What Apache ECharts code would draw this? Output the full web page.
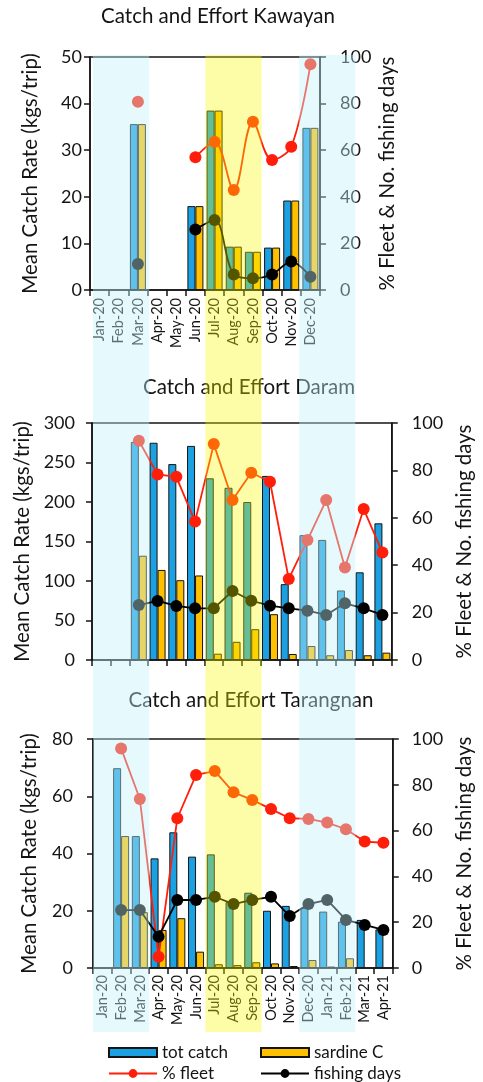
<!DOCTYPE html>
<html>
<head>
<meta charset="utf-8">
<script src="https://cdn.jsdelivr.net/npm/echarts@6/dist/echarts.min.js"></script>
<style>
html, body { margin: 0; padding: 0; background: #fff; }
#main { width: 483px; height: 1082px; }
</style>
</head>
<body>
<div id="main"></div>
<script>
// month labels (Kawayan only goes to Dec-20)
var months = ['Jan-20','Feb-20','Mar-20','Apr-20','May-20','Jun-20','Jul-20','Aug-20','Sep-20','Oct-20','Nov-20','Dec-20','Jan-21','Feb-21','Mar-21','Apr-21'];
var monthsKaw = ['Jan-20','Feb-20','Mar-20','Apr-20','May-20','Jun-20','Jul-20','Aug-20','Sep-20','Oct-20','Nov-20','Dec-20'];

// Kawayan
var kawTot   = [null, null, 35.6, null, null, 18.0, 38.5, 9.3, 8.2, 9.1, 19.2, 34.8];
var kawSar   = [null, null, 35.6, null, null, 18.0, 38.5, 9.3, 8.2, 9.1, 19.2, 34.8];
var kawFleet = [null, null, 80.8, null, null, 57.0, 63.6, 42.9, 72.2, 55.8, 61.5, 96.9];
var kawDays  = [null, null, 11.2, null, null, 26.0, 30.0, 6.7, 5.0, 6.7, 12.2, 5.7];

// Daram
var darTot   = [null, null, 276, 275, 248, 271, 230, 218, 200, 233, 96, 158, 152, 88, 111, 173];
var darSar   = [null, null, 132, 114, 101, 107, 8, 23, 39, 58, 7.6, 17.7, 6, 12.6, 6, 9.3];
var darFleet = [null, null, 92.5, 78.3, 77.3, 58.4, 91.1, 67.5, 79.0, 75.2, 34.2, 50.6, 67.5, 39.0, 63.7, 45.4];
var darDays  = [null, null, 23.2, 24.9, 22.8, 21.8, 21.8, 29.1, 25.0, 22.9, 21.8, 20.8, 19.0, 23.9, 21.8, 19.0];

// Tarangnan
var tarTot   = [null, 69.8, 46.1, 38.3, 47.4, 38.9, 39.7, 23.0, 26.3, 20.0, 21.7, 21.0, 19.7, 16.2, 16.8, 13.5];
var tarSar   = [null, 46.1, 19.5, 13.3, 17.4, 5.7, 1.3, 1.0, 2.0, 1.6, 0.7, 2.8, 0.5, 3.4, null, null];
var tarFleet = [null, 95.9, 73.8, 4.9, 65.4, 84.3, 86.0, 76.7, 73.4, 69.4, 65.4, 65.1, 63.5, 60.6, 55.2, 54.7];
var tarDays  = [null, 25.3, 25.3, 13.7, 29.7, 29.7, 31.1, 27.9, 29.7, 31.1, 22.7, 27.9, 29.7, 21.0, 18.8, 16.6];

// shaded seasons: first month, last month
var bandFrom = ['Jan-20', 'Jul-20', 'Dec-20'];
var bandTo   = ['Mar-20', 'Sep-20', 'Feb-21'];

var FONT = 'Lato, "Noto Sans", sans-serif';
var INK = '#141414';
var BLUE = '#1ba0e2';
var GOLD = '#ffc000';
var RED = '#ff1e0a';

var chart = echarts.init(document.getElementById('main'));

function catAxis(g, data, showLabel, margin) {
  return {
    type: 'category', gridIndex: g, data: data,
    axisLine: { lineStyle: { color: INK, width: 1.5 } },
    axisTick: { show: true, length: 6, lineStyle: { color: INK, width: 1.5 } },
    axisLabel: { show: showLabel, rotate: 90, interval: 0, margin: margin, fontSize: 14.5, color: INK, fontFamily: FONT }
  };
}

function valAxis(g, pos, max, step, name, labelMargin, nameGap) {
  return {
    type: 'value', gridIndex: g, position: pos, min: 0, max: max, interval: step,
    name: name, nameLocation: 'middle', nameGap: nameGap, nameRotate: 90,
    nameTextStyle: { fontSize: 20.5, color: INK, fontFamily: FONT },
    splitLine: { show: false },
    axisLine: { show: true, lineStyle: { color: INK, width: 1.5 } },
    axisTick: { show: true, length: 6, lineStyle: { color: INK, width: 1.5 } },
    axisLabel: { margin: labelMargin, fontSize: 18, color: INK, fontFamily: FONT }
  };
}

function bars(g, name, data, color) {
  return {
    type: 'bar', name: name, xAxisIndex: g, yAxisIndex: g * 2, data: data,
    barWidth: 8, barGap: '0%',
    itemStyle: { color: color, borderColor: INK, borderWidth: 1 }
  };
}

function line(g, name, data, color, smooth) {
  return {
    type: 'line', name: name, xAxisIndex: g, yAxisIndex: g * 2 + 1, data: data,
    symbol: 'circle', symbolSize: 12, smooth: smooth, connectNulls: false, z: 4,
    lineStyle: { color: color, width: 1.8 },
    itemStyle: { color: color }
  };
}

var leftName = 'Mean Catch Rate (kgs/trip)';
var rightName = '% Fleet & No. fishing days';
var titleStyle = { fontSize: 20.5, fontWeight: 'normal', color: INK, fontFamily: FONT };
var legendText = { fontSize: 17, color: INK, fontFamily: FONT };

var option = {
  animation: false,
  backgroundColor: '#fff',
  textStyle: { fontFamily: FONT },
  title: [
    { text: 'Catch and Effort Kawayan', left: 218, top: 6, textAlign: 'center', padding: 0, textStyle: titleStyle },
    { text: 'Catch and Effort Daram', left: 249, top: 377, textAlign: 'center', padding: 0, textStyle: titleStyle },
    { text: 'Catch and Effort Tarangnan', left: 251, top: 690, textAlign: 'center', padding: 0, textStyle: titleStyle }
  ],
  grid: [
    { left: 90, top: 57, width: 230, height: 233, show: true, borderColor: INK, borderWidth: 1.5, backgroundColor: 'transparent' },
    { left: 92, top: 423, width: 305, height: 237, show: true, borderColor: INK, borderWidth: 1.5, backgroundColor: 'transparent' },
    { left: 93, top: 739, width: 305, height: 229, show: true, borderColor: INK, borderWidth: 1.5, backgroundColor: 'transparent' }
  ],
  xAxis: [
    catAxis(0, monthsKaw, true, 8),
    catAxis(1, months, false, 8),
    catAxis(2, months, true, 7)
  ],
  yAxis: [
    valAxis(0, 'left', 50, 10, leftName, 8, 49),
    valAxis(0, 'right', 100, 20, rightName, 20, 57),
    valAxis(1, 'left', 300, 50, leftName, 17, 52),
    valAxis(1, 'right', 100, 20, rightName, 20, 57),
    valAxis(2, 'left', 80, 20, leftName, 20, 53),
    valAxis(2, 'right', 100, 20, rightName, 19, 56)
  ],
  legend: [
    { data: ['tot catch'], left: 103, top: 1039, icon: 'rect', itemWidth: 48, itemHeight: 9, textStyle: legendText },
    { data: ['sardine C'], left: 255, top: 1039, icon: 'rect', itemWidth: 48, itemHeight: 9, textStyle: legendText },
    { data: ['% fleet'], left: 103, top: 1060, itemWidth: 48, itemHeight: 11, textStyle: legendText },
    { data: ['fishing days'], left: 255, top: 1060, itemWidth: 48, itemHeight: 11, textStyle: legendText }
  ],
  series: [
    bars(0, 'tot catch', kawTot, BLUE),
    bars(0, 'sardine C', kawSar, GOLD),
    line(0, '% fleet', kawFleet, RED, 0.35),
    line(0, 'fishing days', kawDays, '#000', 0.35),
    bars(1, 'tot catch', darTot, BLUE),
    bars(1, 'sardine C', darSar, GOLD),
    line(1, '% fleet', darFleet, RED, false),
    line(1, 'fishing days', darDays, '#000', false),
    bars(2, 'tot catch', tarTot, BLUE),
    bars(2, 'sardine C', tarSar, GOLD),
    line(2, '% fleet', tarFleet, RED, false),
    line(2, 'fishing days', tarDays, '#000', false)
  ]
};
chart.setOption(option);

// translucent season bands laid over all three panels, placed from the bottom panel's month axis
var step = chart.convertToPixel({ xAxisIndex: 2 }, 1) - chart.convertToPixel({ xAxisIndex: 2 }, 0);
var fills = ['rgba(195,244,251,0.41)', 'rgba(250,250,0,0.34)', 'rgba(195,244,251,0.41)'];
var rects = [];
for (var i = 0; i < bandFrom.length; i++) {
  var x0 = chart.convertToPixel({ xAxisIndex: 2 }, months.indexOf(bandFrom[i])) - step / 2;
  var x1 = chart.convertToPixel({ xAxisIndex: 2 }, months.indexOf(bandTo[i])) + step / 2;
  rects.push({
    type: 'rect', silent: true, z: 100,
    shape: { x: x0, y: 55, width: x1 - x0, height: 977 },
    style: { fill: fills[i] }
  });
}
chart.setOption({ graphic: rects });
</script>
</body>
</html>
